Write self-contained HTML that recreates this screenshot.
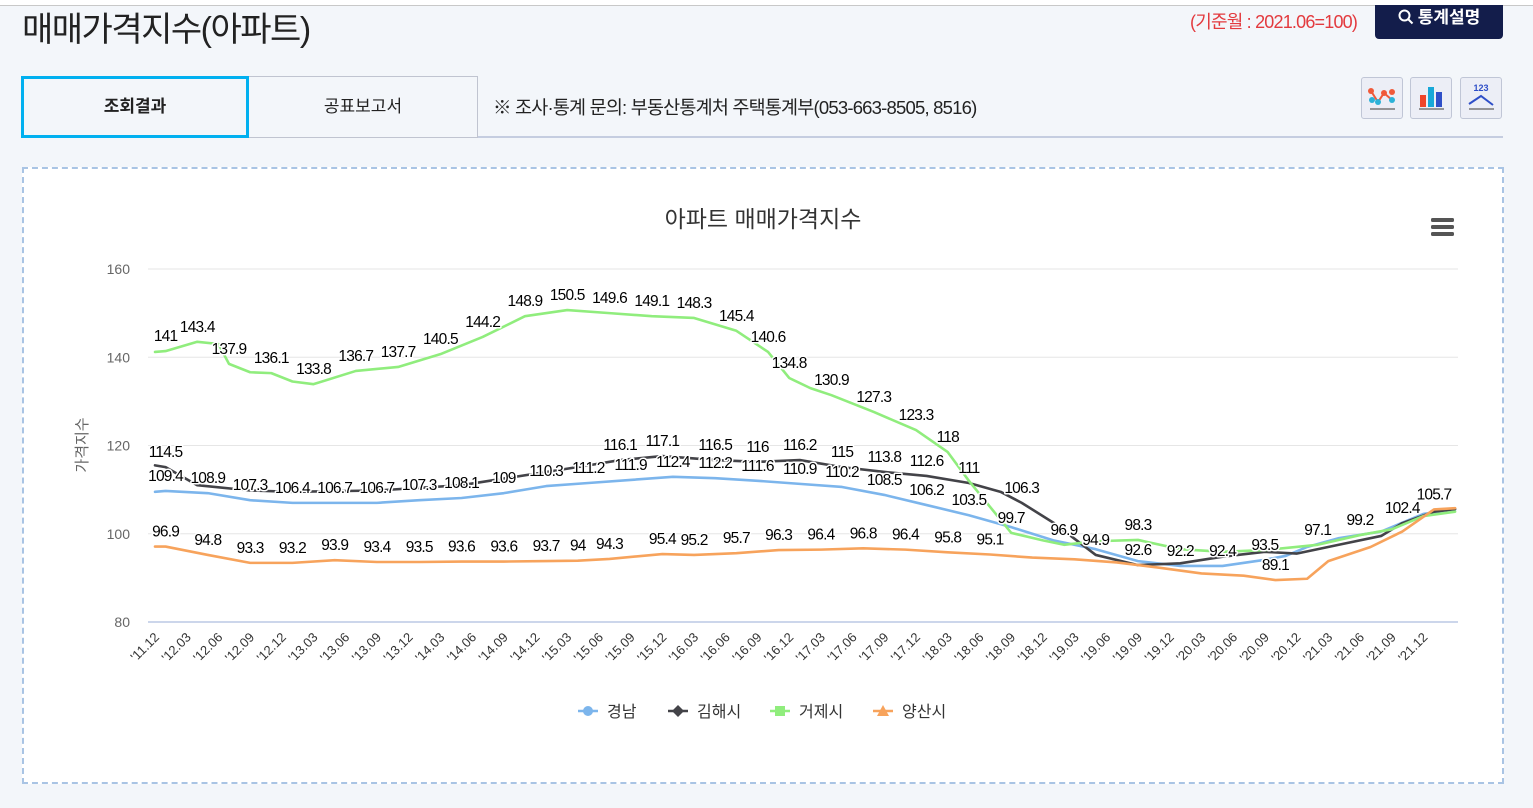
<!DOCTYPE html>
<html><head><meta charset="utf-8">
<style>
body{margin:0;width:1533px;height:808px;overflow:hidden;background:#f3f6fa;font-family:"Liberation Sans","Noto Sans CJK KR",sans-serif;position:relative}
.abs{position:absolute}
</style></head><body>
<div class="abs" style="left:0;top:0;width:1533px;height:5px;background:#fff;border-bottom:1px solid #c8c8c8"></div>
<div class="abs" style="left:22px;top:2px;font-size:34px;color:#222;letter-spacing:-1.5px">매매가격지수(아파트)</div>
<div class="abs" style="left:1190px;top:8px;font-size:18px;color:#e33a3e;letter-spacing:-0.8px">(기준월 : 2021.06=100)</div>
<div class="abs" style="left:1375px;top:5px;width:128px;height:34px;background:#131d4b;border-radius:0 0 4px 4px;color:#fff;font-size:17px;font-weight:bold;line-height:26px;text-align:center"><svg width="16" height="16" style="vertical-align:-2px;margin-right:4px"><circle cx="6.5" cy="6.5" r="5" fill="none" stroke="#fff" stroke-width="2"/><line x1="10" y1="10" x2="14.5" y2="14.5" stroke="#fff" stroke-width="2"/></svg>통계설명</div>
<div class="abs" style="left:21px;top:76px;width:222px;height:56px;border:3px solid #00b0f0;font-size:17px;font-weight:bold;color:#222;text-align:center;line-height:56px">조회결과</div>
<div class="abs" style="left:249px;top:76px;width:228px;height:60px;border:1px solid #c0c4d0;border-left:none;font-size:17px;color:#222;text-align:center;line-height:60px">공표보고서</div>
<div class="abs" style="left:493px;top:94px;font-size:18.5px;color:#222;letter-spacing:-0.8px">※ 조사·통계 문의: 부동산통계처 주택통계부(053-663-8505, 8516)</div>
<div class="abs" style="left:478px;top:136px;width:1025px;height:2px;background:#c5cde0"></div>
<div class="abs" style="left:1361px;top:77px;width:40px;height:40px;border:1px solid #c0c6d6;border-radius:3px;background:#eceef6"><svg width="40" height="40"><polyline points="9,13 16,24 22,15 30,22" fill="none" stroke="#f05a3a" stroke-width="2"/><circle cx="9" cy="13" r="3" fill="#f05a3a"/><circle cx="16" cy="24" r="3" fill="#2bb2d8"/><circle cx="22" cy="15" r="3" fill="#f05a3a"/><circle cx="30" cy="22" r="3" fill="#2bb2d8"/><circle cx="10" cy="22" r="3" fill="#2bb2d8"/><circle cx="30" cy="14" r="3" fill="#f05a3a"/><line x1="8" y1="31" x2="33" y2="31" stroke="#777" stroke-width="1.5"/></svg></div>
<div class="abs" style="left:1410px;top:77px;width:40px;height:40px;border:1px solid #c0c6d6;border-radius:3px;background:#eceef6"><svg width="40" height="40"><rect x="9" y="17" width="6" height="12" fill="#f0452a"/><rect x="17" y="9" width="6" height="20" fill="#18a8d8"/><rect x="25" y="14" width="6" height="15" fill="#2f4fc8"/><line x1="8" y1="31" x2="33" y2="31" stroke="#777" stroke-width="1.5"/></svg></div>
<div class="abs" style="left:1460px;top:77px;width:40px;height:40px;border:1px solid #c0c6d6;border-radius:3px;background:#eceef6"><svg width="40" height="40"><text x="20" y="13" text-anchor="middle" font-size="9" font-weight="bold" fill="#2f4fc8">123</text><polyline points="8,26 20,18 32,27" fill="none" stroke="#2f4fc8" stroke-width="2"/><line x1="8" y1="31" x2="33" y2="31" stroke="#777" stroke-width="1.5"/></svg></div>
<div class="abs" style="left:22px;top:167px;width:1478px;height:613px;border:2px dashed #a9c4e4;background:#fff"></div>
<svg class="abs" id="chart" style="left:0;top:0" width="1533" height="808" font-family="Liberation Sans, Noto Sans CJK KR, sans-serif"></svg>
<script>
const blueM=[0,1,5,9,13,17,21,25,29,33,37,41,45,49,53,57,61,65,69,73,77,81,85,89,93,97,101,105,107,109,112,116,120,123];
const blueV=[109.5,109.7,109.2,107.6,107,107,107,107.6,108.1,109.2,110.8,111.5,112.2,112.9,112.6,112,111.3,110.6,108.8,106.5,104.2,101.5,98.5,96.5,93.8,92.7,92.7,94.1,95,97,99,100.5,104.5,105.5];
const blueL=[null,"109.4","108.9","107.3","106.4","106.7","106.7","107.3","108.1","109","110.3","111.2","111.9","112.4","112.2","111.6","110.9","110.2","108.5","106.2","103.5",null,null,null,null,"92.2","92.4","93.5",null,null,null,null,null,null];
const blackM=[0,1,4,9,13,21,29,33,37,41,44,48,53,57,61,65,69,73,77,80,82,85,89,93,97,101,105,108,112,116,118,121,123];
const blackV=[115.5,115.1,111,109.8,109.5,109.8,111,112.5,114,115.5,116.7,117.6,116.7,116.3,116.7,115.1,114,113.1,111.5,109.5,107,102.5,95.2,92.9,93.3,94.8,95.9,95.5,97.5,99.5,102.4,105,105.6];
const blackL=[null,"114.5",null,null,null,null,null,null,null,null,"116.1","117.1","116.5","116","116.2","115","113.8","112.6","111",null,"106.3",null,"94.9","92.6",null,null,null,null,null,null,"102.4",null,null];
const greenM=[0,1,4,6,7,9,11,13,15,19,23,27,31,35,39,43,47,51,55,58,60,62,64,68,72,75,77,81,84,86,89,93,97,101,105,110,114,117,120,123];
const greenV=[141.2,141.4,143.5,143,138.5,136.6,136.4,134.5,133.9,136.9,137.8,140.7,144.6,149.3,150.7,150,149.3,148.9,146,141.2,135.3,133,131.4,127.6,123.5,118.5,112,100.2,98.5,97.5,98.3,98.6,96.5,95.9,96.3,97.5,99.7,101,104,105];
const greenL=[null,"141","143.4",null,"137.9",null,"136.1",null,"133.8","136.7","137.7","140.5","144.2","148.9","150.5","149.6","149.1","148.3","145.4","140.6","134.8",null,"130.9","127.3","123.3","118",null,"99.7",null,"96.9",null,"98.3",null,null,null,"97.1","99.2",null,null,null];
const orangeM=[0,1,5,9,13,17,21,25,29,33,37,40,43,48,51,55,59,63,67,71,75,79,83,87,91,95,99,103,106,109,111,115,118,121,123];
const orangeV=[97.1,97.1,95.2,93.4,93.4,94.0,93.6,93.6,93.7,93.7,93.8,93.9,94.3,95.4,95.2,95.6,96.3,96.4,96.7,96.4,95.8,95.3,94.6,94.2,93.5,92.3,91,90.5,89.5,89.8,93.8,97,100.5,105.5,105.8];
const orangeL=[null,"96.9","94.8","93.3","93.2","93.9","93.4","93.5","93.6","93.6","93.7","94","94.3","95.4","95.2","95.7","96.3","96.4","96.8","96.4","95.8","95.1",null,null,null,null,null,null,"89.1",null,null,null,null,"105.7",null];
const yTicks=[80,100,120,140,160];
const quarterCount=41;

const NS="http://www.w3.org/2000/svg";
const svg=document.getElementById('chart');
const x=m=>155+m*10.57;
const y=v=>622-(v-80)*4.4125;
function mk(tag,attrs,parent){const e=document.createElementNS(NS,tag);for(const k in attrs)e.setAttribute(k,attrs[k]);(parent||svg).appendChild(e);return e;}

let t=mk('text',{x:763,y:227,'text-anchor':'middle','font-size':23,fill:'#333'});t.textContent='아파트 매매가격지수';


const menu=mk('g',{});


[220,227,234].forEach(yy=>mk('rect',{x:1431,y:yy-2,width:23,height:4,rx:1.5,fill:'#555'},menu));

yTicks.forEach(v=>{
  const g=mk('line',{x1:148,x2:1458,y1:y(v),y2:y(v),stroke:v===80?'#ccd6eb':'#e6e6e6','stroke-width':v===80?2:1});
  
  
  const l=mk('text',{x:130,y:y(v)+5,'text-anchor':'end','font-size':14,fill:'#666'});l.textContent=v;
  
  
});
const yt=mk('text',{transform:'translate(87,445) rotate(-90)','text-anchor':'middle','font-size':15,fill:'#666'});yt.textContent='가격지수';



for(let q=0;q<quarterCount;q++){
  const tot=2011*12+11+3*q;const yr=Math.floor(tot/12)%100;const mo=tot%12+1;
  const xx=x(3*q)+5;
  const l=mk('text',{x:xx,y:638,'text-anchor':'end','font-size':13,fill:'#333',transform:`rotate(-45 ${xx} 638)`});
  l.textContent="'"+yr+"."+(mo<10?'0':'')+mo;
  
  
}

const series=[
 {name:'경남',key:'gyeongnam',color:'#7cb5ec',M:blueM,V:blueV,L:blueL},
 {name:'김해시',key:'gimhae',color:'#434348',M:blackM,V:blackV,L:blackL},
 {name:'거제시',key:'geoje',color:'#90ed7d',M:greenM,V:greenV,L:greenL},
 {name:'양산시',key:'yangsan',color:'#f7a35c',M:orangeM,V:orangeV,L:orangeL}
];
series.forEach(s=>{
  const p=mk('polyline',{points:s.M.map((m,i)=>x(m)+','+y(s.V[i])).join(' '),fill:'none',stroke:s.color,'stroke-width':2.6,'stroke-linejoin':'round','stroke-linecap':'round'});
  
  
});
series.forEach(s=>{
  s.M.forEach((m,i)=>{
    if(s.L[i]==null)return;
    const l=mk('text',{x:x(m),y:y(s.V[i])-10,'text-anchor':'middle','font-size':15.5,fill:'#000',stroke:'#fff','stroke-width':3,'paint-order':'stroke','stroke-linejoin':'round','letter-spacing':'-0.8'});
    l.textContent=s.L[i];
    
    
  });
});

const legX=[578,668,770,873];
series.forEach((s,i)=>{
  const g=mk('g',{});
  
  
  const lx=legX[i];
  mk('line',{x1:lx,x2:lx+20,y1:711,y2:711,stroke:s.color,'stroke-width':2.6},g);
  const cx=lx+10;
  if(i===0)mk('circle',{cx:cx,cy:711,r:5,fill:s.color},g);
  if(i===1)mk('path',{d:`M${cx},705 L${cx+6},711 L${cx},717 L${cx-6},711Z`,fill:s.color},g);
  if(i===2)mk('rect',{x:cx-5,y:706,width:10,height:10,fill:s.color},g);
  if(i===3)mk('path',{d:`M${cx},705 L${cx+6},716 L${cx-6},716Z`,fill:s.color},g);
  const tx=mk('text',{x:lx+29,y:717,'font-size':16,fill:'#333'},g);tx.textContent=s.name;
});
</script>
</body></html>
